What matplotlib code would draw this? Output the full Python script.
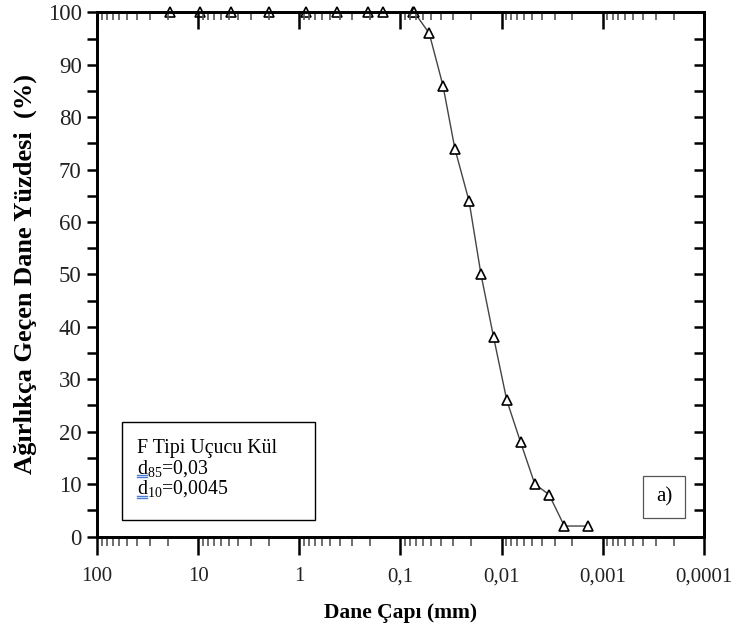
import numpy as np
import matplotlib
matplotlib.use("Agg")
import matplotlib.pyplot as plt
from matplotlib.ticker import LogLocator, FixedLocator, FuncFormatter, NullFormatter
from matplotlib.patches import Rectangle

# grain size distribution, F type fly ash
dane_capi = [19.0, 9.5, 4.75, 2.0, 0.85, 0.425, 0.21, 0.15, 0.076, 0.073,
             0.052, 0.038, 0.029, 0.021, 0.016, 0.012, 0.0089, 0.0065,
             0.0047, 0.0034, 0.0024, 0.0014]
gecen_yuzde = [100, 100, 100, 100, 100, 100, 100, 100, 100, 100,
               96, 86, 74, 64, 50, 38, 26, 18, 10, 8, 2, 2]

x_ticks = [100, 10, 1, 0.1, 0.01, 0.001, 0.0001]
x_tick_labels = ["100", "10", "1", "0,1", "0,01", "0,001", "0,0001"]
y_ticks = [0, 10, 20, 30, 40, 50, 60, 70, 80, 90, 100]

plt.rcParams["font.family"] = ["Liberation Serif", "DejaVu Serif"]
plt.rcParams["mathtext.fontset"] = "custom"
plt.rcParams["mathtext.rm"] = "Liberation Serif"

fig = plt.figure(figsize=(7.32, 6.24), dpi=100)
ax = fig.add_axes([0.1325, 0.1402, 0.8292, 0.8401])

ax.plot(dane_capi, gecen_yuzde, color="#444444", lw=1.0, marker="^",
        markersize=7, markerfacecolor="white", markeredgecolor="black",
        markeredgewidth=1.2, clip_on=False, zorder=5)

ax.set_xscale("log")
ax.set_xlim(100, 0.0001)
ax.set_ylim(0, 100)

ax.xaxis.set_major_locator(FixedLocator(x_ticks))
ax.xaxis.set_major_formatter(FuncFormatter(
    lambda v, p: x_tick_labels[x_ticks.index(v)] if v in x_ticks else ""))
ax.xaxis.set_minor_locator(LogLocator(base=10, subs=np.arange(2, 10), numticks=20))
ax.xaxis.set_minor_formatter(NullFormatter())
ax.set_yticks(y_ticks)
ax.yaxis.set_minor_locator(FixedLocator(np.arange(5, 100, 10)))

for s in ax.spines.values():
    s.set_linewidth(1.8)

ax.tick_params(axis="x", which="major", direction="out", length=13, width=1.8,
               labelsize=15, pad=9, top=False, labelcolor="#222222")
ax.tick_params(axis="x", which="minor", direction="out", length=6.5, width=1.2,
               color="#555555", top=False)
ax.tick_params(axis="y", which="both", direction="out", length=7, width=1.8,
               labelsize=16.5, pad=4, right=False, labelcolor="#222222")

# mirrored ticks on top and right, pointing into the plot
top = ax.twiny()
top.set_xscale("log")
top.set_xlim(ax.get_xlim())
top.xaxis.set_major_locator(FixedLocator(x_ticks))
top.xaxis.set_minor_locator(LogLocator(base=10, subs=np.arange(2, 10), numticks=20))
top.xaxis.set_major_formatter(NullFormatter())
top.xaxis.set_minor_formatter(NullFormatter())
top.tick_params(axis="x", which="major", direction="in", length=12.5, width=1.8,
                labeltop=False)
top.tick_params(axis="x", which="minor", direction="in", length=6, width=1.2,
                color="#555555")
right = ax.twinx()
right.set_ylim(0, 100)
right.set_yticks(np.arange(0, 101, 5))
right.yaxis.set_major_formatter(NullFormatter())
right.tick_params(axis="y", direction="in", length=7, width=1.8, labelright=False)
for a in (top, right):
    for s in a.spines.values():
        s.set_linewidth(1.8)

ax.set_xlabel("Dane Çapı (mm)", fontsize=15.5, fontweight="bold", labelpad=12)
ax.set_ylabel("Ağırlıkça Geçen Dane Yüzdesi  (%)", fontsize=19,
              fontweight="bold", labelpad=8)

# info box
ax.add_patch(Rectangle((0.0412, 0.0315), 0.3178, 0.1869, transform=ax.transAxes,
                       fill=False, edgecolor="black", lw=1.0, zorder=6))
lines = ["F Tipi Uçucu Kül", r"d$_{\mathrm{85}}$=0,03", r"d$_{\mathrm{10}}$=0,0045"]
ys = [0.1593, 0.1202, 0.0811]
texts = []
for s, y in zip(lines, ys):
    texts.append(ax.text(0.0659, y, s, transform=ax.transAxes, fontsize=14.3,
                         va="baseline", ha="left", zorder=7))

# spell-check style underline below the "d"s
fig.canvas.draw()
r = fig.canvas.get_renderer()
probe = ax.text(0, 0, "d", fontsize=14.3, transform=ax.transAxes)
dw = probe.get_window_extent(r).width
probe.remove()
inv = fig.transFigure.inverted()
for t in texts[1:]:
    bb = t.get_window_extent(r)
    x0 = bb.x0
    base = ax.transAxes.transform((0, t.get_position()[1]))[1]
    for off in (1.8, 3.6):
        (fx0, fy), (fx1, _) = inv.transform([(x0, base - off), (x0 + dw, base - off)])
        fig.add_artist(plt.Line2D([fx0, fx1], [fy, fy], color="#4a7fd6", lw=1.0))

# panel tag
ax.add_patch(Rectangle((0.8995, 0.0353), 0.0692, 0.0801, transform=ax.transAxes,
                       fill=False, edgecolor="#555555", lw=0.9, zorder=6))
ax.text(0.9341, 0.0754, "a)", transform=ax.transAxes, fontsize=15,
        ha="center", va="center", zorder=7)

fig.savefig("out.png", dpi=100)
